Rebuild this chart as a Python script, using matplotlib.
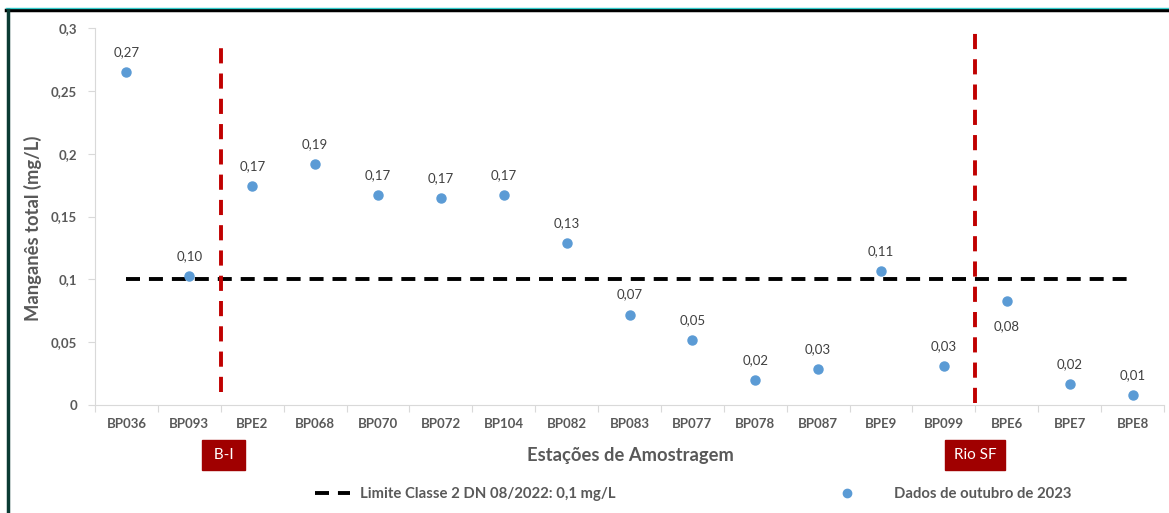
import matplotlib
matplotlib.use("Agg")
import matplotlib.pyplot as plt
from matplotlib.lines import Line2D

stations = ["BP036", "BP093", "BPE2", "BP068", "BP070", "BP072", "BP104", "BP082", "BP083",
            "BP077", "BP078", "BP087", "BPE9", "BP099", "BPE6", "BPE7", "BPE8"]
manganese = [0.265, 0.103, 0.174, 0.192, 0.167, 0.165, 0.167, 0.129, 0.072,
             0.052, 0.020, 0.029, 0.107, 0.031, 0.083, 0.017, 0.008]
limit = 0.1
y_ticks = [0, 0.05, 0.1, 0.15, 0.2, 0.25, 0.3]
y_tick_labels = ["0", "0,05", "0,1", "0,15", "0,2", "0,25", "0,3"]

plt.rcParams["font.family"] = ["Lato", "DejaVu Sans"]
gray = "#595959"
blue = "#5b9bd5"
darkred = "#a00000"
black_dash = (0, (3.6, 2.3))
red_dash = (0, (3.9, 2.6))

fig = plt.figure(figsize=(11.69, 5.13), dpi=100)
ax = fig.add_axes([0.0813, 0.2105, 0.9144, 0.7349])

x = list(range(len(stations)))
ax.plot([x[0], x[-1]], [limit, limit], color="black", linestyle=black_dash, linewidth=2.8,
        label="Limite Classe 2 DN 08/2022: 0,1 mg/L", zorder=2)
ax.plot(x, manganese, linestyle="none", marker="o", markersize=6.5, color=blue,
        label="Dados de outubro de 2023", zorder=3)

for i, v in enumerate(manganese):
    txt = f"{v:.2f}".replace(".", ",")
    if stations[i] == "BPE6":
        ax.annotate(txt, (i, v), xytext=(0, -14), textcoords="offset points",
                    ha="center", va="top", fontsize=9.5, color="#404040")
    else:
        ax.annotate(txt, (i, v), xytext=(0, 10), textcoords="offset points",
                    ha="center", va="bottom", fontsize=9.5, color="#404040")

# separators between river sections
ax.plot([1.5, 1.5], [0.010, 0.287], color="#c00000", linestyle=red_dash, linewidth=2.8, zorder=4)
ax.plot([13.5, 13.5], [0.002, 0.297], color="#c00000", linestyle=red_dash, linewidth=2.8, zorder=4)

ax.set_xlim(-0.5, len(stations) - 0.5)
ax.set_ylim(0, 0.3)
ax.set_yticks(y_ticks)
ax.set_yticklabels(y_tick_labels)
ax.set_xticks([i - 0.5 for i in range(len(stations) + 1)])
ax.set_xticklabels([])
ax.set_xticks(x, minor=True)
ax.set_xticklabels(stations, minor=True)
ax.tick_params(axis="x", which="major", length=5, color="#d9d9d9", direction="out")
ax.tick_params(axis="x", which="minor", length=0, pad=9)
ax.tick_params(axis="y", length=5, color="#d9d9d9", pad=8)
for lab in ax.get_xticklabels(minor=True) + ax.get_yticklabels():
    lab.set_color(gray)
    lab.set_fontweight("bold")
    lab.set_fontsize(9.5)

for s in ["top", "right"]:
    ax.spines[s].set_visible(False)
ax.spines["left"].set_color("#d9d9d9")
ax.spines["bottom"].set_color("#d9d9d9")

ax.set_ylabel("Manganês total (mg/L)", fontsize=13.2, fontweight="bold", color=gray)
ax.yaxis.set_label_coords(-0.050, 0.47)
fig.text(0.539, 0.113, "Estações de Amostragem", ha="center", va="center",
         fontsize=13.2, fontweight="bold", color=gray)

fig.text(0.191, 0.113, " B-I ", ha="center", va="center", fontsize=11, color="white",
         bbox=dict(boxstyle="square,pad=0.5", facecolor=darkred, edgecolor=darkred))
fig.text(0.834, 0.113, "Rio SF", ha="center", va="center", fontsize=11, color="white",
         bbox=dict(boxstyle="square,pad=0.55", facecolor=darkred, edgecolor=darkred))

# legend: two single-entry legends to match spacing
leg_prop = {"size": 10.7, "weight": "bold"}
line_handle = Line2D([], [], color="black", linestyle=black_dash, linewidth=2.8)
dot_handle = Line2D([], [], color=blue, marker="o", linestyle="none", markersize=6)
leg1 = fig.legend([line_handle], ["Limite Classe 2 DN 08/2022: 0,1 mg/L"],
                  loc="center left", bbox_to_anchor=(0.2695, 0.037), frameon=False,
                  prop=leg_prop, labelcolor=gray, handlelength=2.35, handletextpad=0.67,
                  borderpad=0, borderaxespad=0)
fig.legend([dot_handle], ["Dados de outubro de 2023"],
           loc="center left", bbox_to_anchor=(0.7117, 0.037), frameon=False,
           prop=leg_prop, labelcolor=gray, handlelength=2.0, handletextpad=2.2,
           borderpad=0, borderaxespad=0)

# frame lines (top and left)
fig.add_artist(Line2D([0.005, 1.0], [0.98, 0.98], transform=fig.transFigure, color="black", linewidth=2.5))
fig.add_artist(Line2D([0.005, 1.0], [0.984, 0.984], transform=fig.transFigure, color="#33cccc", linewidth=1))
fig.add_artist(Line2D([0.0065, 0.0065], [0.0, 0.98], transform=fig.transFigure, color="#0b3b33", linewidth=2.5))

fig.savefig("out.png", dpi=100)
